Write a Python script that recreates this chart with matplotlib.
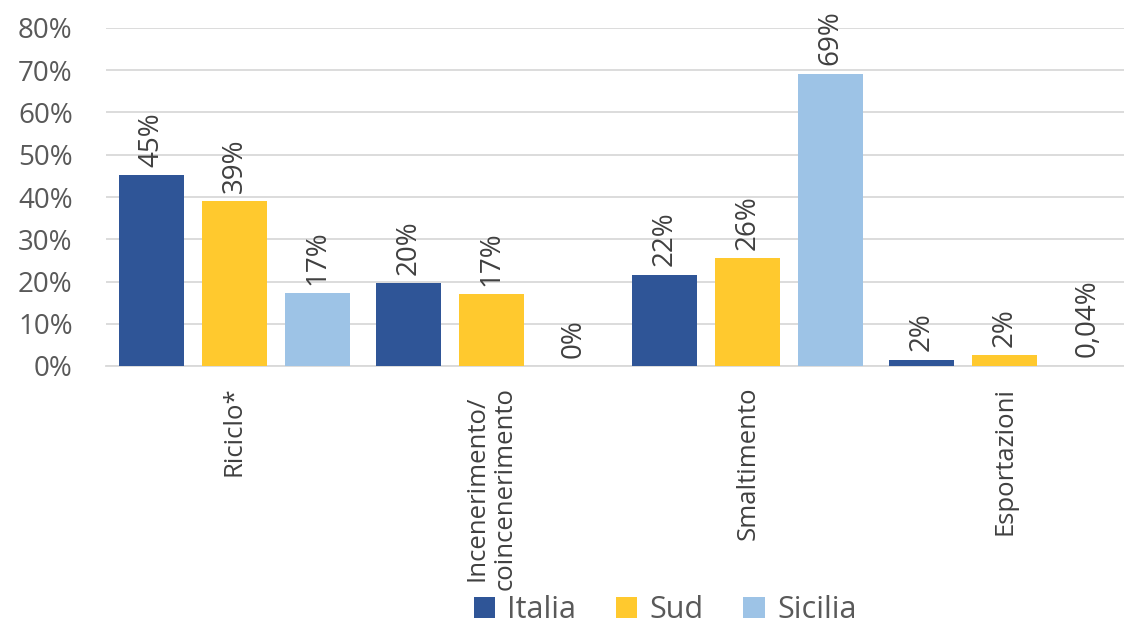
import matplotlib
matplotlib.use("Agg")
import matplotlib.pyplot as plt
import numpy as np

plt.rcParams['font.family'] = ['Open Sans', 'DejaVu Sans']

categories = ["Riciclo*", "Incenerimento/\ncoincenerimento", "Smaltimento", "Esportazioni"]
series_names = ["Italia", "Sud", "Sicilia"]
italia = [45.2, 19.6, 21.6, 1.5]
sud = [39.0, 17.0, 25.5, 2.5]
sicilia = [17.2, 0.0, 69.2, 0.04]
italia_labels = ["45%", "20%", "22%", "2%"]
sud_labels = ["39%", "17%", "26%", "2%"]
sicilia_labels = ["17%", "0%", "69%", "0,04%"]
yticks = [0, 10, 20, 30, 40, 50, 60, 70, 80]
ytick_labels = ["0%", "10%", "20%", "30%", "40%", "50%", "60%", "70%", "80%"]

colors = ["#2F5597", "#FFC92E", "#9DC3E6"]

W, H = 1124, 627
fig = plt.figure(figsize=(W / 100, H / 100), dpi=100)
ax = fig.add_axes([106 / W, (H - 366) / H, 1027 / W, (366 - 28) / H])

x = np.arange(len(categories))
width = 0.253
step = 0.323
all_vals = [italia, sud, sicilia]
all_labels = [italia_labels, sud_labels, sicilia_labels]
for i, (vals, labs, name, c) in enumerate(zip(all_vals, all_labels, series_names, colors)):
    pos = x + (i - 1) * step
    ax.bar(pos, vals, width=width, color=c, label=name, zorder=3)
    for px, v, lab in zip(pos, vals, labs):
        ax.annotate(lab, (px, v), xytext=(0, 6), textcoords="offset points",
                    rotation=90, ha="center", va="bottom", fontsize=20,
                    color="#404040", annotation_clip=False)

ax.set_xlim(-0.5, len(categories) - 0.5)
ax.set_ylim(0, 80)
ax.set_yticks(yticks)
ax.set_yticklabels(ytick_labels, fontsize=20, color="#595959")
ax.yaxis.grid(True, color="#D9D9D9", linewidth=1.3, zorder=0)
ax.set_axisbelow(True)
ax.tick_params(axis="y", length=0, pad=24)
ax.set_xticks(x)
ax.set_xticklabels(categories, rotation=90, fontsize=18.5, color="#404040",
                   va="top", ha="center", linespacing=1.15)
ax.tick_params(axis="x", length=0, pad=15)
for s in ["top", "right", "left"]:
    ax.spines[s].set_visible(False)
ax.spines["bottom"].set_color("#D9D9D9")
ax.spines["bottom"].set_linewidth(1.3)

fig.legend(loc="center", bbox_to_anchor=(665 / W, 17 / H), ncol=3, frameon=False,
           fontsize=22, handlelength=0.7, handleheight=0.7, handletextpad=0.4,
           columnspacing=1.3, labelcolor="#595959", borderpad=0.1)

fig.savefig("out.png", dpi=100)
